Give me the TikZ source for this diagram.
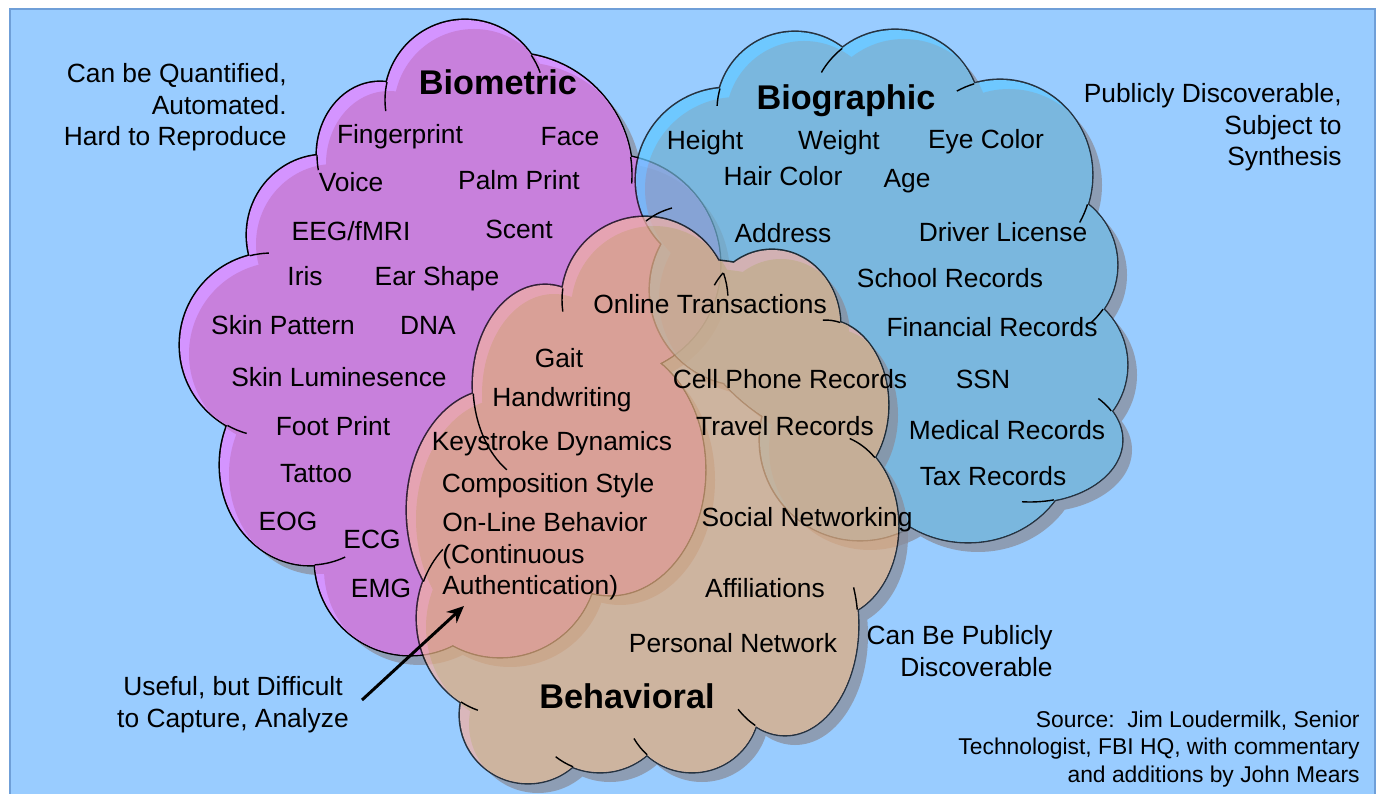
\documentclass[tikz,border=0pt]{standalone}
\usepackage{fontspec}
\setmainfont{Liberation Sans}
\usetikzlibrary{arrows.meta}

\definecolor{bgblue}{RGB}{153,204,255}
\definecolor{bgline}{RGB}{111,159,216}
\definecolor{metricfill}{RGB}{200,128,220}
\definecolor{metricrim}{RGB}{212,148,255}
\definecolor{shadowgray}{RGB}{143,158,182}
\definecolor{groupshadow}{RGB}{138,142,156}
\definecolor{graphicfill}{RGB}{112,176,211}
\definecolor{graphicrim}{RGB}{96,199,255}
\definecolor{behavefill}{RGB}{223,172,128}
\definecolor{beharim}{RGB}{240,176,165}

\tikzset{
lbl/.style={font=\fontsize{15}{18}\selectfont, inner sep=0pt, text height=10.7pt, text depth=0pt},
ttl/.style={font=\fontsize{19.5}{23}\selectfont\bfseries, inner sep=0pt, text height=14pt, text depth=0pt},
note/.style={font=\fontsize{15}{18}\selectfont, inner sep=0pt},
srcnote/.style={font=\fontsize{13}{15.4}\selectfont, inner sep=0pt, align=right},
tail/.style={draw=black, line width=0.8pt},
>={Stealth[length=3.4mm,width=3mm]},
}

% one ellipse per bump of each cloud (pixel coordinates)
\newcommand{\metricCloud}{(272,345) ellipse [x radius=92, y radius=92]
 (325,235) ellipse [x radius=78, y radius=80]
 (380,155) ellipse [x radius=63, y radius=73]
 (465,100) ellipse [x radius=80, y radius=80]
 (510,175) ellipse [x radius=122, y radius=122]
 (610,265) ellipse [x radius=110, y radius=110]
 (310,465) ellipse [x radius=90, y radius=100]
 (410,560) ellipse [x radius=95, y radius=95]
 (610,470) ellipse [x radius=95, y radius=125]
 (500,560) ellipse [x radius=97, y radius=97]
 (440,340) ellipse [x radius=170, y radius=200]}
\newcommand{\graphicCloud}{(728,180) ellipse [x radius=92, y radius=92]
 (745,290) ellipse [x radius=95, y radius=95]
 (795,110) ellipse [x radius=78, y radius=78]
 (895,115) ellipse [x radius=85, y radius=85]
 (1000,175) ellipse [x radius=92, y radius=95]
 (1040,265) ellipse [x radius=77, y radius=77]
 (1050,365) ellipse [x radius=77, y radius=77]
 (1030,440) ellipse [x radius=92, y radius=62]
 (968,445) ellipse [x radius=105, y radius=97]
 (860,440) ellipse [x radius=100, y radius=100]
 (880,270) ellipse [x radius=200, y radius=180]}
\newcommand{\behaveCloud}{(545,385) ellipse [x radius=72, y radius=100]
 (645,300) ellipse [x radius=83, y radius=83]
 (772,325) ellipse [x radius=68, y radius=75]
 (825,405) ellipse [x radius=63, y radius=85]
 (700,360) ellipse [x radius=140, y radius=100]
 (495,510) ellipse [x radius=88, y radius=120]
 (505,618) ellipse [x radius=88, y radius=97]
 (528,715) ellipse [x radius=68, y radius=68]
 (600,700) ellipse [x radius=72, y radius=72]
 (692,705) ellipse [x radius=67, y radius=67]
 (785,625) ellipse [x radius=73, y radius=110]
 (828,526) ellipse [x radius=70, y radius=92]
 (650,600) ellipse [x radius=200, y radius=120]
 (680,480) ellipse [x radius=170, y radius=60]}

% shadow, outline, light rim, body
\newcommand{\cloudlayers}[4]{%
 \fill[#2, shift={(10,10)}] #1;
 \draw[draw=black, line width=1.8pt] #1;
 \fill[#3] #1;
 \begin{scope}
  \clip #1;
  \fill[#4, shift={(9,9)}] #1;
 \end{scope}
}
% short arc of one bump running on into its neighbour
\newcommand{\notch}[5]{\draw[tail] (#1) ++(#4:#2 and #3) arc[start angle=#4, end angle=#5, x radius=#2, y radius=#3];}

\begin{document}
\begin{tikzpicture}[x=0.2mm, y=-0.2mm]
\useasboundingbox (0,0) rectangle (1380,794);
\fill[white] (0,0) rectangle (1380,794);
\draw[bgline, fill=bgblue, line width=0.6pt] (10,9) rectangle (1375,800);

%Clouds
\cloudlayers{\metricCloud}{shadowgray}{metricrim}{metricfill}
\begin{scope}[transparency group, opacity=0.75]
\cloudlayers{\graphicCloud}{groupshadow}{graphicrim}{graphicfill}
\end{scope}
\begin{scope}[transparency group, opacity=0.75]
\cloudlayers{\behaveCloud}{groupshadow}{beharim}{behavefill}
\end{scope}

%Notches
\notch{465,100}{80}{80}{193}{172}
\notch{380,155}{63}{73}{180}{168}
\notch{272,345}{92}{92}{256}{268}
\notch{272,345}{92}{92}{119}{106}
\notch{310,465}{90}{100}{87}{67}
\notch{465,100}{80}{80}{326}{340}
\notch{510,175}{122}{122}{-8.5}{4}
\draw[tail] (646,221) to[bend left=10] (672,208);
\notch{795,110}{78}{78}{196}{183}
\notch{895,115}{85}{85}{231.6}{210}
\notch{1000,175}{92}{95}{253.6}{242}
\notch{1000,175}{92}{95}{18}{30}
\notch{1040,265}{77}{77}{35}{48}
\notch{1030,440}{92}{62}{-28}{-42}
\notch{1030,440}{92}{62}{75}{95}
\notch{645,300}{83}{83}{188}{172}
\notch{645,300}{83}{83}{-19}{-3}
\notch{772,325}{68}{75}{224}{212}
\notch{825,405}{63}{85}{-76}{-92}
\notch{828,526}{70}{92}{-48}{-72}
\notch{785,625}{73}{110}{-8}{-20}
\notch{785,625}{73}{110}{114}{130}
\notch{692,705}{67}{67}{132}{150}
\notch{600,700}{72}{72}{112}{128}
\notch{505,618}{88}{97}{120}{108}
\notch{505,618}{88}{97}{202}{225}
\notch{545,385}{72}{100}{175}{122}

%Biometric labels
\node[ttl] (biometric) at (498,82) {Biometric};
\node[lbl] (fingerprint) at (400,134) {Fingerprint};
\node[lbl] (face) at (570,136) {Face};
\node[lbl] (voice) at (351,182) {Voice};
\node[lbl] (palmprint) at (519,180) {Palm Print};
\node[lbl] (eeg) at (351,231) {EEG/fMRI};
\node[lbl] (scent) at (519,229) {Scent};
\node[lbl] (iris) at (305,276) {Iris};
\node[lbl] (earshape) at (437,276) {Ear Shape};
\node[lbl] (skinpattern) at (283,325) {Skin Pattern};
\node[lbl] (dna) at (428,325) {DNA};
\node[lbl] (skinlum) at (339,377) {Skin Luminesence};
\node[lbl] (footprint) at (333,426) {Foot Print};
\node[lbl] (tattoo) at (316,473) {Tattoo};
\node[lbl] (eog) at (288,521) {EOG};
\node[lbl] (ecg) at (372,539) {ECG};
\node[lbl] (emg) at (381,588) {EMG};

%Biographic labels
\node[ttl] (biographic) at (846,97) {Biographic};
\node[lbl] (height) at (705,140) {Height};
\node[lbl] (weight) at (839,140) {Weight};
\node[lbl] (eyecolor) at (986,139) {Eye Color};
\node[lbl] (haircolor) at (783,176) {Hair Color};
\node[lbl] (age) at (907,178) {Age};
\node[lbl] (address) at (783,233) {Address};
\node[lbl] (driver) at (1003,232) {Driver License};
\node[lbl] (school) at (950,278) {School Records};
\node[lbl] (financial) at (992,327) {Financial Records};
\node[lbl] (ssn) at (983,379) {SSN};
\node[lbl] (medical) at (1007,430) {Medical Records};
\node[lbl] (tax) at (993,476) {Tax Records};

%Behavioral labels
\node[lbl] (online) at (710,304) {Online Transactions};
\node[lbl] (gait) at (559,358) {Gait};
\node[lbl] (handwriting) at (562,397) {Handwriting};
\node[lbl] (cellphone) at (790,379) {Cell Phone Records};
\node[lbl] (travel) at (785,426) {Travel Records};
\node[lbl] (keystroke) at (552,441) {Keystroke Dynamics};
\node[lbl] (composition) at (548,483) {Composition Style};
\node[note, align=left, anchor=north west] (onlinebehavior) at (442,512) {On-Line Behavior\\(Continuous\\Authentication)};
\node[lbl] (social) at (807,517) {Social Networking};
\node[lbl] (affiliations) at (765,588) {Affiliations};
\node[lbl] (personal) at (733,643) {Personal Network};
\node[ttl] (behavioral) at (627,696) {Behavioral};

%Side notes
\node[note, align=right, anchor=north east] (quantnote) at (287,63) {Can be Quantified,\\Automated.\\Hard to Reproduce};
\node[note, align=right, anchor=north east] (synthnote) at (1342,83) {Publicly Discoverable,\\Subject to\\Synthesis};
\node[note, align=right, anchor=north east] (publicnote) at (1053,625) {Can Be Publicly\\Discoverable};
\node[note, align=center, anchor=north] (usefulnote) at (233,676) {Useful, but Difficult\\to Capture, Analyze};
\node[srcnote, anchor=north east] (source) at (1360,711) {Source:~~Jim Loudermilk, Senior\\Technologist, FBI HQ, with commentary\\and additions by John Mears};

\coordinate (arrowtail) at (362,700);
\coordinate (arrowhead) at (464,606);
\draw[->, line width=1.7pt] (arrowtail) -- (arrowhead);
\end{tikzpicture}
\end{document}
